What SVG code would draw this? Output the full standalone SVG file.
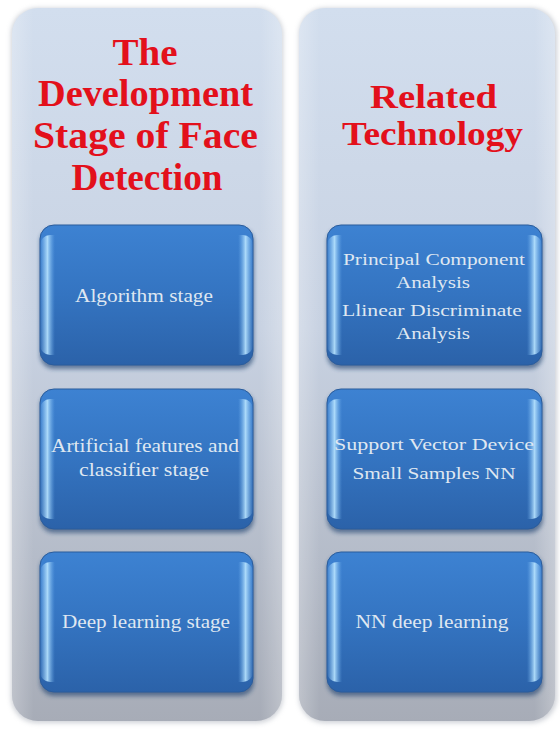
<svg xmlns="http://www.w3.org/2000/svg" width="560" height="729" viewBox="0 0 560 729">
  <defs>
    <linearGradient id="panelFill" x1="0" y1="0" x2="0" y2="1">
      <stop offset="0" stop-color="#d2deee"/>
      <stop offset="0.45" stop-color="#c8d2e2"/>
      <stop offset="1" stop-color="#a7acb7"/>
    </linearGradient>
    <linearGradient id="panelEdge" x1="0" y1="0" x2="1" y2="0">
      <stop offset="0" stop-color="#ffffff" stop-opacity="0.25"/>
      <stop offset="0.08" stop-color="#ffffff" stop-opacity="0"/>
      <stop offset="0.92" stop-color="#ffffff" stop-opacity="0"/>
      <stop offset="1" stop-color="#ffffff" stop-opacity="0.25"/>
    </linearGradient>
    <linearGradient id="boxFill" x1="0" y1="0" x2="0" y2="1">
      <stop offset="0" stop-color="#3d82d2"/>
      <stop offset="0.5" stop-color="#3474c1"/>
      <stop offset="1" stop-color="#2b62a9"/>
    </linearGradient>
    <linearGradient id="gloss" x1="0" y1="0" x2="1" y2="0">
      <stop offset="0" stop-color="#9fd4ff" stop-opacity="0"/>
      <stop offset="0.035" stop-color="#b8e4ff" stop-opacity="0.9"/>
      <stop offset="0.07" stop-color="#6fb0ee" stop-opacity="0"/>
      <stop offset="0.93" stop-color="#6fb0ee" stop-opacity="0"/>
      <stop offset="0.965" stop-color="#b8e4ff" stop-opacity="0.9"/>
      <stop offset="1" stop-color="#9fd4ff" stop-opacity="0"/>
    </linearGradient>
    <filter id="soft" x="-10%" y="-10%" width="120%" height="120%">
      <feGaussianBlur stdDeviation="2.5"/>
    </filter>
    <filter id="boxShadow" x="-10%" y="-10%" width="120%" height="125%">
      <feGaussianBlur stdDeviation="2"/>
    </filter>
  </defs>
  <style>
    .title { font-family: "Liberation Serif", "Times New Roman", serif; font-weight: bold; font-size: 38px; fill: #e3101b; text-anchor: middle; }
    .title-r { font-size: 34px; }
    .label { font-family: "Liberation Serif", "Times New Roman", serif; font-size: 18px; fill: #dfe7f1; text-anchor: middle; }
    .small { font-size: 16px; }
  </style>

  <rect width="560" height="729" fill="#ffffff"/>

  <!-- left column panel -->
  <g id="panel-left">
    <rect x="11" y="8" width="272" height="715" rx="26" fill="#9ea4b0" opacity="0.5" filter="url(#soft)"/>
    <rect x="12" y="8" width="270" height="713" rx="26" fill="url(#panelFill)"/>
    <rect x="12" y="8" width="270" height="713" rx="26" fill="url(#panelEdge)"/>
    <text class="title" x="145" y="65" textLength="65" lengthAdjust="spacingAndGlyphs">The</text>
    <text class="title" x="145.5" y="106" textLength="215" lengthAdjust="spacingAndGlyphs">Development</text>
    <text class="title" x="145.5" y="148" textLength="225" lengthAdjust="spacingAndGlyphs">Stage of Face</text>
    <text class="title" x="147" y="190" textLength="151" lengthAdjust="spacingAndGlyphs">Detection</text>
  </g>

  <!-- right column panel -->
  <g id="panel-right">
    <rect x="299" y="8" width="258" height="715" rx="26" fill="#9ea4b0" opacity="0.5" filter="url(#soft)"/>
    <rect x="299" y="8" width="256" height="713" rx="26" fill="url(#panelFill)"/>
    <rect x="299" y="8" width="256" height="713" rx="26" fill="url(#panelEdge)"/>
    <text class="title title-r" x="433.5" y="108" textLength="127" lengthAdjust="spacingAndGlyphs">Related</text>
    <text class="title title-r" x="432.5" y="145" textLength="181" lengthAdjust="spacingAndGlyphs">Technology</text>
  </g>

  <!-- left column stages -->
  <g id="box-algorithm">
    <rect x="40" y="228" width="214" height="141" rx="14" fill="#1d3f6e" opacity="0.6" filter="url(#boxShadow)"/>
    <rect x="40" y="225" width="213" height="140" rx="14" fill="url(#boxFill)" stroke="#2a5c9c" stroke-width="1"/>
    <rect x="40" y="235" width="213" height="120" rx="10" fill="url(#gloss)"/>
    <text class="label" x="144" y="302" textLength="138" lengthAdjust="spacingAndGlyphs">Algorithm stage</text>
  </g>
  <g id="box-artificial">
    <rect x="40" y="392" width="214" height="141" rx="14" fill="#1d3f6e" opacity="0.6" filter="url(#boxShadow)"/>
    <rect x="40" y="389" width="213" height="140" rx="14" fill="url(#boxFill)" stroke="#2a5c9c" stroke-width="1"/>
    <rect x="40" y="399" width="213" height="120" rx="10" fill="url(#gloss)"/>
    <text class="label" x="145" y="452" textLength="188" lengthAdjust="spacingAndGlyphs">Artificial features and</text>
    <text class="label" x="144" y="476" textLength="130" lengthAdjust="spacingAndGlyphs">classifier stage</text>
  </g>
  <g id="box-deep">
    <rect x="40" y="555" width="214" height="141" rx="14" fill="#1d3f6e" opacity="0.6" filter="url(#boxShadow)"/>
    <rect x="40" y="552" width="213" height="140" rx="14" fill="url(#boxFill)" stroke="#2a5c9c" stroke-width="1"/>
    <rect x="40" y="562" width="213" height="120" rx="10" fill="url(#gloss)"/>
    <text class="label" x="146" y="628" textLength="168" lengthAdjust="spacingAndGlyphs">Deep learning stage</text>
  </g>

  <!-- right column technologies -->
  <g id="box-pca-lda">
    <rect x="327" y="228" width="216" height="141" rx="14" fill="#1d3f6e" opacity="0.6" filter="url(#boxShadow)"/>
    <rect x="327" y="225" width="215" height="140" rx="14" fill="url(#boxFill)" stroke="#2a5c9c" stroke-width="1"/>
    <rect x="327" y="235" width="215" height="120" rx="10" fill="url(#gloss)"/>
    <text class="label small" x="434" y="265" textLength="182" lengthAdjust="spacingAndGlyphs">Principal Component</text>
    <text class="label small" x="433" y="288" textLength="74" lengthAdjust="spacingAndGlyphs">Analysis</text>
    <text class="label small" x="432" y="316" textLength="180" lengthAdjust="spacingAndGlyphs">Llinear Discriminate</text>
    <text class="label small" x="433" y="339" textLength="74" lengthAdjust="spacingAndGlyphs">Analysis</text>
  </g>
  <g id="box-svm-nn">
    <rect x="327" y="392" width="216" height="141" rx="14" fill="#1d3f6e" opacity="0.6" filter="url(#boxShadow)"/>
    <rect x="327" y="389" width="215" height="140" rx="14" fill="url(#boxFill)" stroke="#2a5c9c" stroke-width="1"/>
    <rect x="327" y="399" width="215" height="120" rx="10" fill="url(#gloss)"/>
    <text class="label small" x="434" y="450" textLength="200" lengthAdjust="spacingAndGlyphs">Support Vector Device</text>
    <text class="label small" x="434" y="479" textLength="163" lengthAdjust="spacingAndGlyphs">Small Samples NN</text>
  </g>
  <g id="box-nn-deep">
    <rect x="327" y="555" width="216" height="141" rx="14" fill="#1d3f6e" opacity="0.6" filter="url(#boxShadow)"/>
    <rect x="327" y="552" width="215" height="140" rx="14" fill="url(#boxFill)" stroke="#2a5c9c" stroke-width="1"/>
    <rect x="327" y="562" width="215" height="120" rx="10" fill="url(#gloss)"/>
    <text class="label" x="432" y="628" textLength="153" lengthAdjust="spacingAndGlyphs">NN deep learning</text>
  </g>

  <!-- no connectors are drawn between the columns -->
  <g id="connectors"/>
</svg>
